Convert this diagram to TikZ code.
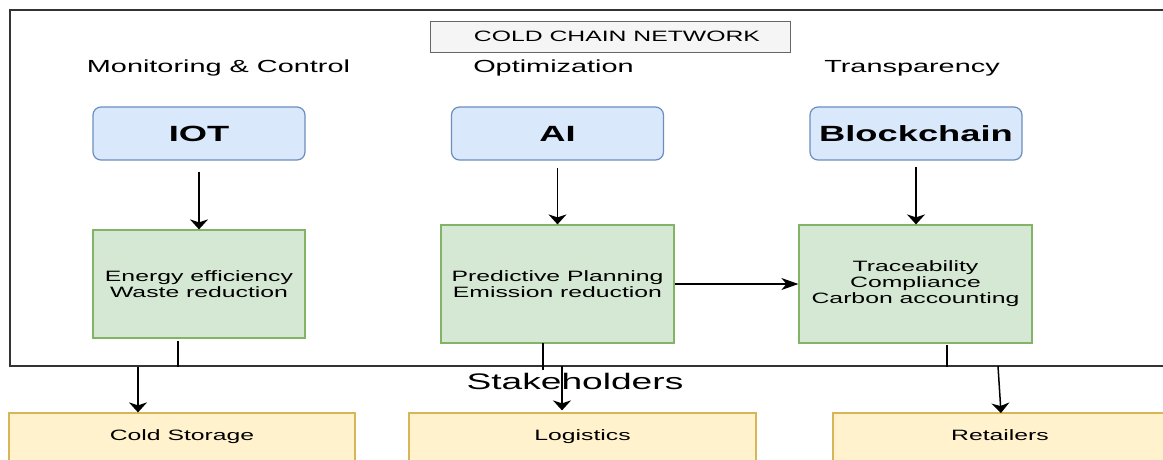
\documentclass[tikz,border=0pt]{standalone}
\usepackage{fontspec}
\setmainfont{Liberation Sans}[FakeStretch=1.65]
\usetikzlibrary{arrows.meta}

\definecolor{blueFill}{HTML}{DAE8FC}
\definecolor{blueLine}{HTML}{6C8EBF}
\definecolor{greenFill}{HTML}{D5E8D4}
\definecolor{greenLine}{HTML}{82B366}
\definecolor{yellowFill}{HTML}{FFF2CC}
\definecolor{yellowLine}{HTML}{D6B656}
\definecolor{grayFill}{HTML}{F5F5F5}
\definecolor{grayLine}{HTML}{666666}
\definecolor{frameLine}{HTML}{333333}

\tikzset{
  txt/.style={inner sep=0pt, font=\fontsize{#1}{#1}\selectfont},
  techbox/.style={draw=blueLine, fill=blueFill, line width=1.2pt, rounded corners=8pt,
    minimum width=212pt, minimum height=53pt, inner sep=0pt,
    font=\fontsize{22}{24}\selectfont\bfseries},
  effectbox/.style={draw=greenLine, fill=greenFill, line width=1.2pt, inner sep=0pt,
    align=center, font=\fontsize{15}{16}\selectfont},
  holderbox/.style={draw=yellowLine, fill=yellowFill, line width=1.2pt, inner sep=0pt,
    minimum height=48pt, text height=11pt, text depth=3.5pt,
    font=\fontsize{15}{16}\selectfont},
  titlebox/.style={draw=grayLine, fill=grayFill, line width=1pt, inner sep=0pt,
    minimum width=360pt, minimum height=31pt},
  vlink/.style={line width=1.5pt, -{Stealth[length=10pt, width=18pt, inset=3pt]}},
  hlink/.style={line width=1.2pt, -{Stealth[length=17pt, width=12pt, inset=5pt]}},
  plainlink/.style={line width=1.5pt},
}

\begin{document}
\begin{tikzpicture}[x=1pt, y=-1pt]
\clip (0,0) rectangle (1163,459);
\fill[white] (0,0) rectangle (1163,459);

% network frame
\node[draw=frameLine, line width=1.5pt, minimum width=1180pt, minimum height=356pt,
      inner sep=0pt, anchor=north west] (net) at (9,9) {};

% title
\node[titlebox] (title) at (610,36.5) {};
\node[txt=15] (titletext) at (617,36) {COLD CHAIN NETWORK};

% column headings
\node[txt=17.5] (hmon) at (218.5,68) {Monitoring \& Control};
\node[txt=17.5] (hopt) at (553.5,68) {Optimization};
\node[txt=17.5] (htra) at (912,68) {Transparency};

% technologies
\node[techbox] (iot) at (199,133.5) {IOT};
\node[techbox] (ai) at (557.5,133.5) {AI};
\node[techbox] (bc) at (916,133.5) {Blockchain};

% effects
\node[effectbox, minimum width=212pt, minimum height=108pt] (eff1) at (199,284)
  {Energy efficiency\\Waste reduction};
\node[effectbox, minimum width=233pt, minimum height=118pt] (eff2) at (557.5,284)
  {Predictive Planning\\Emission reduction};
\node[effectbox, minimum width=233pt, minimum height=118pt] (eff3) at (915.5,284)
  {Traceability\\Compliance\\Carbon accounting};

% stakeholders
\node[txt=22.5] (stake) at (575,381) {Stakeholders};
\node[holderbox, minimum width=346pt] (cold) at (182,437) {Cold Storage};
\node[holderbox, minimum width=347pt] (logi) at (582.5,437) {Logistics};
\node[holderbox, minimum width=334pt] (reta) at (1000,437) {Retailers};

% technology to effect
\draw[vlink, shorten <=11pt] (iot.south) -- (eff1.north);
\draw[vlink, shorten <=7pt] (ai.south) -- (ai.south |- eff2.north);
\draw[vlink, shorten <=6pt] (bc.south) -- (bc.south |- eff3.north);

% optimization feeds transparency
\draw[hlink] (eff2.east) -- (eff3.west);

% effects down to the frame edge
\coordinate (d1) at (178,338);
\coordinate (d2) at (543,343);
\coordinate (d3) at (947,343);
\draw[plainlink, shorten <=3pt] (d1) -- (d1 |- net.south);
\draw[plainlink] (d2) -- ([yshift=-3pt]d2 |- net.south);
\draw[plainlink, shorten <=2pt] (d3) -- (d3 |- net.south);

% frame edge down to the stakeholders
\coordinate (u1) at (138,367);
\coordinate (u2) at (562,366);
\coordinate (u3) at (998,366);
\coordinate (t3) at (1001,413);
\draw[vlink] (u1) -- (u1 |- cold.north);
\draw[vlink] (u2) -- ([yshift=2pt]u2 |- logi.north);
\draw[vlink] (u3) -- (t3);
\end{tikzpicture}
\end{document}
